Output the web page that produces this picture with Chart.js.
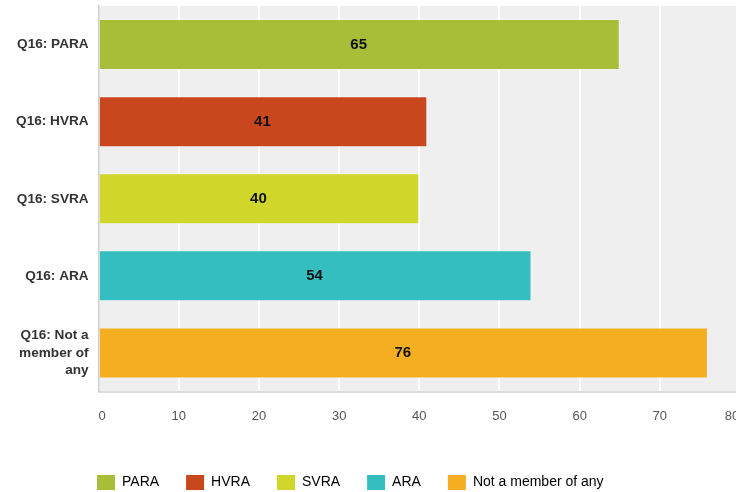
<!DOCTYPE html>
<html><head><meta charset="utf-8">
<script src="https://cdn.jsdelivr.net/npm/chart.js@4.4.1/dist/chart.umd.min.js"></script>
<style>html,body{margin:0;padding:0;background:#fff;overflow:hidden;width:736px;height:492px}</style>
</head><body>
<canvas id="c" width="750" height="492" style="display:block;width:750px;height:492px"></canvas>
<script>
const categories = ["Q16: PARA", "Q16: HVRA", "Q16: SVRA", "Q16: ARA", ["Q16: Not a", "member of", "any"]];
const legendLabels = ["PARA", "HVRA", "SVRA", "ARA", "Not a member of any"];
const values = [65, 41, 40, 54, 76];
const colors = ["#a9be38", "#c8471d", "#d0d62a", "#34bec0", "#f5ae20"];
const xTicks = [0, 10, 20, 30, 40, 50, 60, 70, 80];

const FONT = "'Liberation Sans', Arial, sans-serif";

const plotBg = {
  id: 'plotBg',
  beforeDraw(chart) {
    const a = chart.chartArea, ctx = chart.ctx;
    ctx.save();
    ctx.fillStyle = '#efefef';
    ctx.fillRect(a.left, a.top, a.right - a.left, a.bottom - a.top);
    ctx.restore();
  }
};

const valueLabels = {
  id: 'valueLabels',
  afterDatasetsDraw(chart) {
    const ctx = chart.ctx;
    const meta = chart.getDatasetMeta(0);
    ctx.save();
    ctx.font = "bold 15px " + FONT;
    ctx.fillStyle = '#111';
    ctx.textAlign = 'center';
    ctx.textBaseline = 'middle';
    meta.data.forEach((bar, i) => {
      const p = bar.getProps(['x', 'y', 'base'], true);
      ctx.fillText(String(values[i]), (p.x + p.base) / 2 - 1, p.y);
    });
    ctx.restore();
  }
};

const layoutTweaks = {
  id: 'layoutTweaks',
  afterLayout(chart) {
    const l = chart.legend;
    const w = l.right - l.left, h = l.bottom - l.top;
    l.left = 70; l.right = l.left + w;
    l.top = 448; l.bottom = l.top + h;
    try {
      const s = chart.scales.x;
      const items = s._computeLabelItems(chart.chartArea);
      if (items.length) {
        items[0].options.translation[0] += 3.5;
        items[items.length - 1].options.translation[0] -= 8;
      }
      s._labelItems = items;
    } catch (e) {}
  }
};

new Chart(document.getElementById('c'), {
  type: 'bar',
  data: {
    labels: categories,
    datasets: [{
      data: values,
      backgroundColor: colors,
      borderColor: 'rgba(255,255,255,0.35)',
      borderWidth: 1,
      barPercentage: 0.662,
      categoryPercentage: 1
    }]
  },
  options: {
    indexAxis: 'y',
    responsive: false,
    animation: false,
    devicePixelRatio: 1,
    layout: { padding: { top: 6, right: 10, bottom: 0, left: 0 } },
    scales: {
      x: {
        min: xTicks[0], max: xTicks[xTicks.length - 1],
        ticks: { stepSize: 10, color: '#555', font: { family: FONT, size: 13 }, padding: 17, maxRotation: 0 },
        grid: { color: '#ffffff', lineWidth: 2, drawTicks: false },
        border: { display: true, color: '#dcdcdc', width: 2 },
        afterFit(s) { s.height = 48.5; s.paddingLeft = 0; s.paddingRight = 0; }
      },
      y: {
        ticks: { color: '#333', font: { family: FONT, size: 13.6, weight: 'bold', lineHeight: 1.3 }, padding: 10 },
        grid: { display: false, drawTicks: false },
        border: { display: true, color: '#cccccc', width: 1.5 },
        afterFit(s) { s.width = 98.6; s.paddingTop = 0; s.paddingBottom = 0; }
      }
    },
    plugins: {
      tooltip: { enabled: false },
      legend: {
        position: 'bottom',
        align: 'start',
        labels: {
          boxWidth: 18,
          boxHeight: 15,
          padding: 27,
          color: '#333',
          font: { family: FONT, size: 14 },
          useBorderRadius: true,
          borderRadius: 2,
          generateLabels() {
            return legendLabels.map((t, i) => ({
              text: t, fillStyle: colors[i], strokeStyle: colors[i], lineWidth: 0, hidden: false, index: i
            }));
          }
        }
      }
    }
  },
  plugins: [plotBg, valueLabels, layoutTweaks]
});
</script>
</body></html>
